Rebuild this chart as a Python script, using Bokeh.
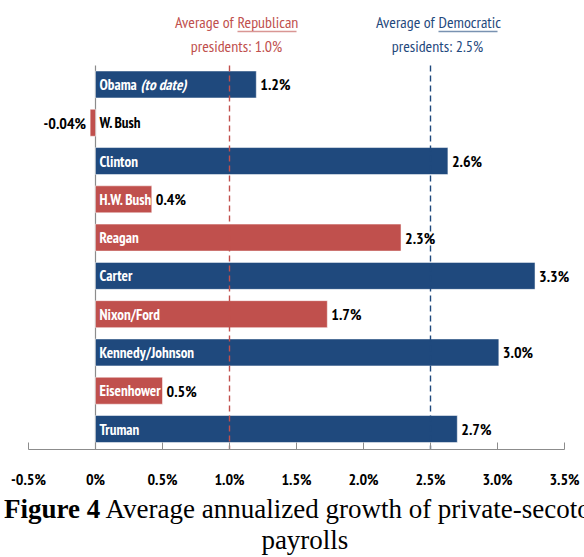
from bokeh.plotting import figure
from bokeh.models import ColumnDataSource, Range1d, FixedTicker, Div
from bokeh.layouts import column
from bokeh.core.properties import value
from bokeh.embed import file_html
from bokeh.resources import INLINE

# ---- data (bottom to top) ----
presidents = ["Truman", "Eisenhower", "Kennedy/Johnson", "Nixon/Ford", "Carter",
              "Reagan", "H.W. Bush", "Clinton", "W. Bush", "Obama"]
party = ["D", "R", "D", "R", "D", "R", "R", "D", "R", "D"]
growth = [2.70, 0.50, 3.01, 1.73, 3.28, 2.28, 0.42, 2.63, -0.04, 1.20]
growth_labels = ["2.7%", "0.5%", "3.0%", "1.7%", "3.3%", "2.3%", "0.4%", "2.6%", "-0.04%", "1.2%"]
italic_suffix = {"Obama": "(to date)"}
party_avg = {"R": 1.0, "D": 2.5}
party_word = {"R": "Republican", "D": "Democratic"}
avg_labels = {"R": "presidents: 1.0%", "D": "presidents: 2.5%"}
tick_values = [-0.5, 0, 0.5, 1.0, 1.5, 2.0, 2.5, 3.0, 3.5]
tick_labels = ["-0.5%", "0%", "0.5%", "1.0%", "1.5%", "2.0%", "2.5%", "3.0%", "3.5%"]
caption_bold = "Figure 4"
caption_rest = "Average annualized growth of private-secotor"
caption_line2 = "payrolls"

COLORS = {"R": "#C0504D", "D": "#1F497D"}
FONT = "PT Sans Narrow"
SERIF = "Liberation Serif"

W = 584
AXIS_Y = 449                   # px of the axis line from the top
FIG_H = 494
LEFT_PX, RIGHT_PX = 28, 564    # px of -0.5% and 3.5%
XPX = (RIGHT_PX - LEFT_PX) / 4.0
X0 = -0.5 - LEFT_PX / XPX
X1 = 3.5 + (W - RIGHT_PX) / XPX
ROW = 38.28                    # px per category row
Y0 = -(AXIS_Y - 428.5) / ROW   # Truman centre at 428.5px
Y1 = Y0 + AXIS_Y / ROW

def py(px):
    return Y0 + (AXIS_Y - px) / ROW

pos = list(range(len(presidents)))
src = ColumnDataSource(dict(
    y=pos, name=presidents, growth=growth, lab=growth_labels,
    color=[COLORS[p] for p in party],
    name_color=["white" if g > 0 else "black" for g in growth],
))

p = figure(width=W, height=FIG_H, output_backend="svg", toolbar_location=None,
           x_range=Range1d(X0, X1), y_range=Range1d(Y0, Y1),
           min_border_left=0, min_border_right=0,
           min_border_top=0, min_border_bottom=FIG_H - AXIS_Y,
           y_axis_location=None)
p.outline_line_color = None
p.grid.visible = False
p.background_fill_color = "white"
p.border_fill_color = "white"

# zero line
p.segment(x0=[0], y0=[Y0], x1=[0], y1=[py(65)], line_color="#8c8c8c", line_width=1.2)

# bars
p.hbar(y="y", left=0, right="growth", height=0.705, source=src,
       fill_color="color", line_color="white", line_alpha=0.5, line_width=1)

# average lines + notes
for k in ["R", "D"]:
    a = party_avg[k]
    p.segment(x0=[a], y0=[py(65)], x1=[a], y1=[Y0], line_color=COLORS[k],
              line_width=1.4, line_dash="6 4")
    p.text(x=[a], y=[py(21)], text=["Average of"], x_offset=4,
           text_align="right", text_baseline="middle", text_color=COLORS[k],
           text_font=value(FONT), text_font_size="16px")
    p.text(x=[a], y=[py(21)], text=[party_word[k]], x_offset=8,
           text_align="left", text_baseline="middle", text_color=COLORS[k],
           text_font=value(FONT), text_font_size="16px")
    p.segment(x0=[a + 8 / XPX], y0=[py(31)], x1=[a + 67 / XPX], y1=[py(31)],
              line_color=COLORS[k], line_width=1.5, line_alpha=0.6)
    p.text(x=[a], y=[py(45)], text=[avg_labels[k]], x_offset=7,
           text_align="center", text_baseline="middle", text_color=COLORS[k],
           text_font=value(FONT), text_font_size="16px")

# names inside bars
p.text(x=0, y="y", text="name", source=src, x_offset=4, text_align="left",
       text_baseline="middle", text_color="name_color", text_font=value(FONT),
       text_font_style="bold", text_font_size="15px")
for i, n in enumerate(presidents):
    if n in italic_suffix:
        p.text(x=[0], y=[pos[i]], text=[italic_suffix[n]], x_offset=45,
               text_align="left", text_baseline="middle", text_color="white",
               text_font=value(FONT), text_font_style="bold italic",
               text_font_size="15px")

# value labels
pos_idx = [i for i, g in enumerate(growth) if g >= 0]
neg_idx = [i for i, g in enumerate(growth) if g < 0]
p.text(x=[growth[i] for i in pos_idx], y=[pos[i] for i in pos_idx],
       text=[growth_labels[i] for i in pos_idx], x_offset=4, text_align="left",
       text_baseline="middle", text_color="black", text_font=value(FONT),
       text_font_style="bold", text_font_size="16px")
p.text(x=[growth[i] for i in neg_idx], y=[pos[i] for i in neg_idx],
       text=[growth_labels[i] for i in neg_idx], x_offset=-4, text_align="right",
       text_baseline="middle", text_color="black", text_font=value(FONT),
       text_font_style="bold", text_font_size="16px")

# x axis
ax = p.xaxis[0]
ax.ticker = FixedTicker(ticks=tick_values)
ax.bounds = (tick_values[0], tick_values[-1])
ax.major_label_overrides = {v: l for v, l in zip(tick_values, tick_labels)}
ax.axis_line_color = "#8c8c8c"
ax.major_tick_line_color = "#8c8c8c"
ax.major_tick_in = 7
ax.major_tick_out = 0
ax.minor_tick_line_color = None
ax.major_label_standoff = 19
ax.major_label_text_font = FONT
ax.major_label_text_font_style = "bold"
ax.major_label_text_font_size = "16px"
ax.major_label_text_color = "black"

# caption (the reference's first caption line runs past the right edge)
cap = Div(
    text=(f"<div style=\"margin-left:4px\"><b>{caption_bold}</b> {caption_rest}</div>"
          f"<div style=\"text-align:center;padding-left:10px\">{caption_line2}</div>"),
    width=W, height=557 - FIG_H, margin=(0, 0, 0, 0),
    styles={"font-family": SERIF, "font-size": "27px", "line-height": "31px",
            "color": "black", "white-space": "nowrap", "overflow": "hidden",
            "width": f"{W}px"},
)

layout = column(p, cap, spacing=0)
open("out.html", "w").write(file_html(layout, INLINE))
